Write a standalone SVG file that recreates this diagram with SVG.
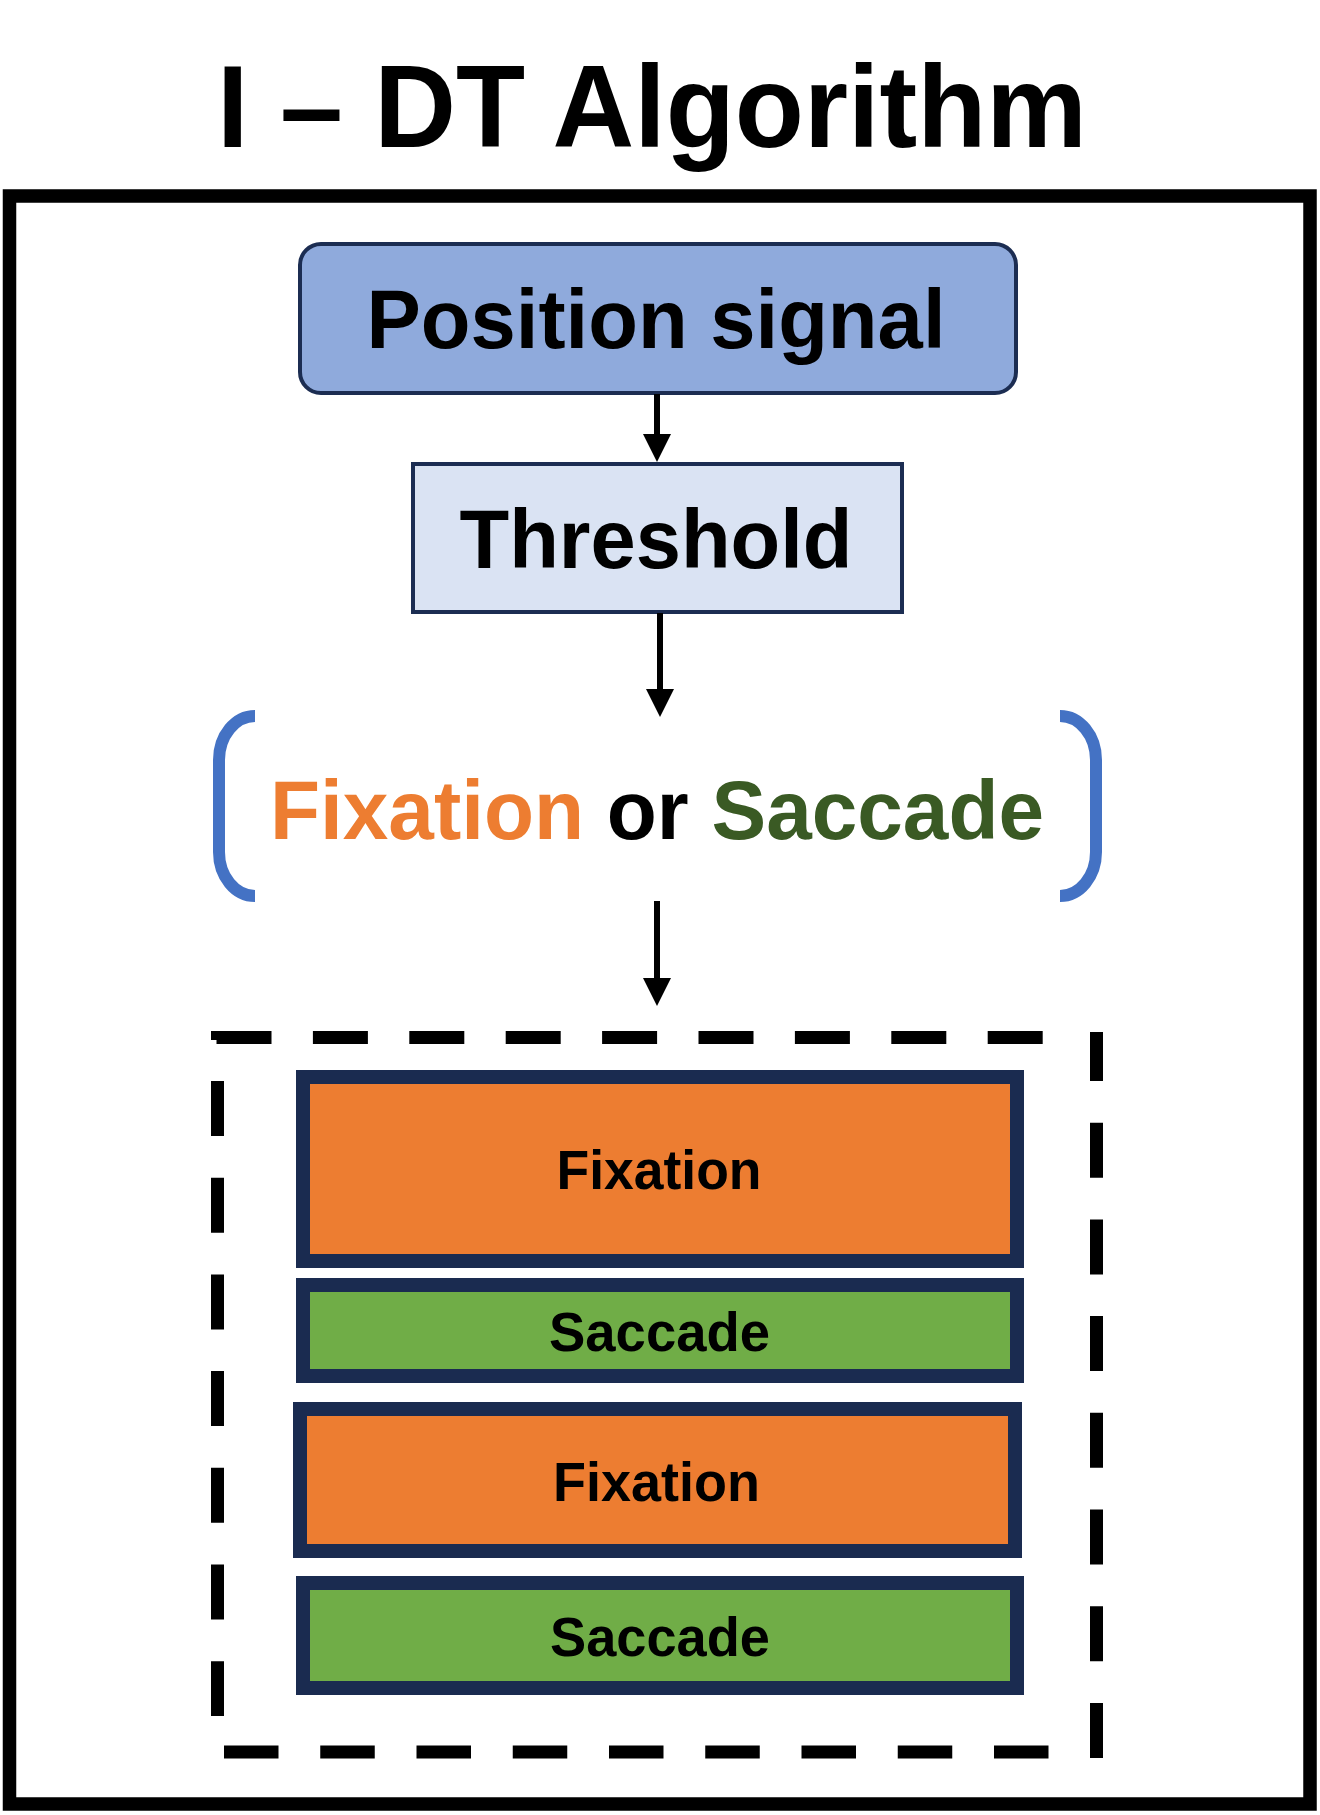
<svg xmlns="http://www.w3.org/2000/svg" width="1320" height="1815" viewBox="0 0 1320 1815">
<style>
  text { font-family: "Liberation Sans", Arial, sans-serif; font-weight: bold; }
  .t-title { font-size: 116px; fill: #000; }
  .t-big { font-size: 83px; fill: #000; }
  .t-seg { font-size: 56px; fill: #000; }
  .navy { stroke: #1C2D52; }
  .seg { stroke: #1A2B50; stroke-width: 14; }
  .fix { fill: #ED7D31; }
  .sac { fill: #70AD47; }
  .dash { stroke: #000; stroke-width: 13; fill: none; }
  .conn { stroke: #000; stroke-width: 6; fill: none; }
  .brk { stroke: #4472C4; stroke-width: 12; fill: none; }
</style>
<defs>
  <marker id="ah" markerUnits="userSpaceOnUse" viewBox="0 0 28 28" markerWidth="28" markerHeight="28" refX="0" refY="14" orient="auto">
    <path d="M0,0 L28,14 L0,28 z" fill="#000"/>
  </marker>
</defs>
<rect width="1320" height="1815" fill="#fff"/>
<text class="t-title" x="652" y="147" text-anchor="middle" textLength="870" lengthAdjust="spacingAndGlyphs">I – DT Algorithm</text>
<rect id="frame" x="9.5" y="196" width="1300.5" height="1608" fill="none" stroke="#000" stroke-width="13.5"/>

<g id="position-signal">
  <rect x="300" y="244" width="716" height="149" rx="21" ry="21" fill="#8FAADC" class="navy" stroke-width="4"/>
  <text class="t-big" x="656" y="348" text-anchor="middle" textLength="579" lengthAdjust="spacingAndGlyphs">Position signal</text>
</g>
<g id="threshold">
  <rect x="413" y="464" width="489" height="148" fill="#DAE3F3" class="navy" stroke-width="4"/>
  <text class="t-big" x="656" y="568" text-anchor="middle" textLength="393" lengthAdjust="spacingAndGlyphs">Threshold</text>
</g>
<g id="fixation-or-saccade">
  <path class="brk" d="M255 716 A36 44 0 0 0 219 760 L219 852 A36 44 0 0 0 255 896"/>
  <path class="brk" d="M1060 716 A36 44 0 0 1 1096 760 L1096 852 A36 44 0 0 1 1060 896"/>
  <text class="t-big" x="270" y="839" textLength="774" lengthAdjust="spacingAndGlyphs"><tspan fill="#ED7D31">Fixation</tspan> <tspan fill="#000">or</tspan> <tspan fill="#3A5A24">Saccade</tspan></text>
</g>
<g id="segments">
  <line class="dash" x1="216.5" y1="1037.5" x2="1043" y2="1037.5" stroke-dasharray="55 41.4"/>
  <rect x="211" y="1031" width="7" height="9" fill="#000"/>
  <line class="dash" x1="1096.5" y1="1032" x2="1096.5" y2="1759" stroke-dasharray="55 41.7" stroke-dashoffset="6"/>
  <line class="dash" x1="217.5" y1="1081" x2="217.5" y2="1716" stroke-dasharray="55 41.7"/>
  <line class="dash" x1="224" y1="1752" x2="1049" y2="1752" stroke-dasharray="54.5 41.75"/>
</g>
<g id="fixation-1">
  <rect x="303" y="1077" width="714" height="184" class="fix seg"/>
  <text class="t-seg" x="659" y="1189" text-anchor="middle" textLength="205" lengthAdjust="spacingAndGlyphs">Fixation</text>
</g>
<g id="saccade-1">
  <rect x="303" y="1285" width="714" height="91" class="sac seg"/>
  <text class="t-seg" x="659.5" y="1351" text-anchor="middle" textLength="221" lengthAdjust="spacingAndGlyphs">Saccade</text>
</g>
<g id="fixation-2">
  <rect x="300" y="1409" width="715" height="142" class="fix seg"/>
  <text class="t-seg" x="656.5" y="1501" text-anchor="middle" textLength="207" lengthAdjust="spacingAndGlyphs">Fixation</text>
</g>
<g id="saccade-2">
  <rect x="303" y="1583" width="714" height="105" class="sac seg"/>
  <text class="t-seg" x="660" y="1656" text-anchor="middle" textLength="220" lengthAdjust="spacingAndGlyphs">Saccade</text>
</g>

<g id="connectors">
  <line class="conn" x1="657" y1="394" x2="657" y2="434" marker-end="url(#ah)"/>
  <line class="conn" x1="660" y1="613" x2="660" y2="689" marker-end="url(#ah)"/>
  <line class="conn" x1="657" y1="901" x2="657" y2="978" marker-end="url(#ah)"/>
</g>
</svg>
